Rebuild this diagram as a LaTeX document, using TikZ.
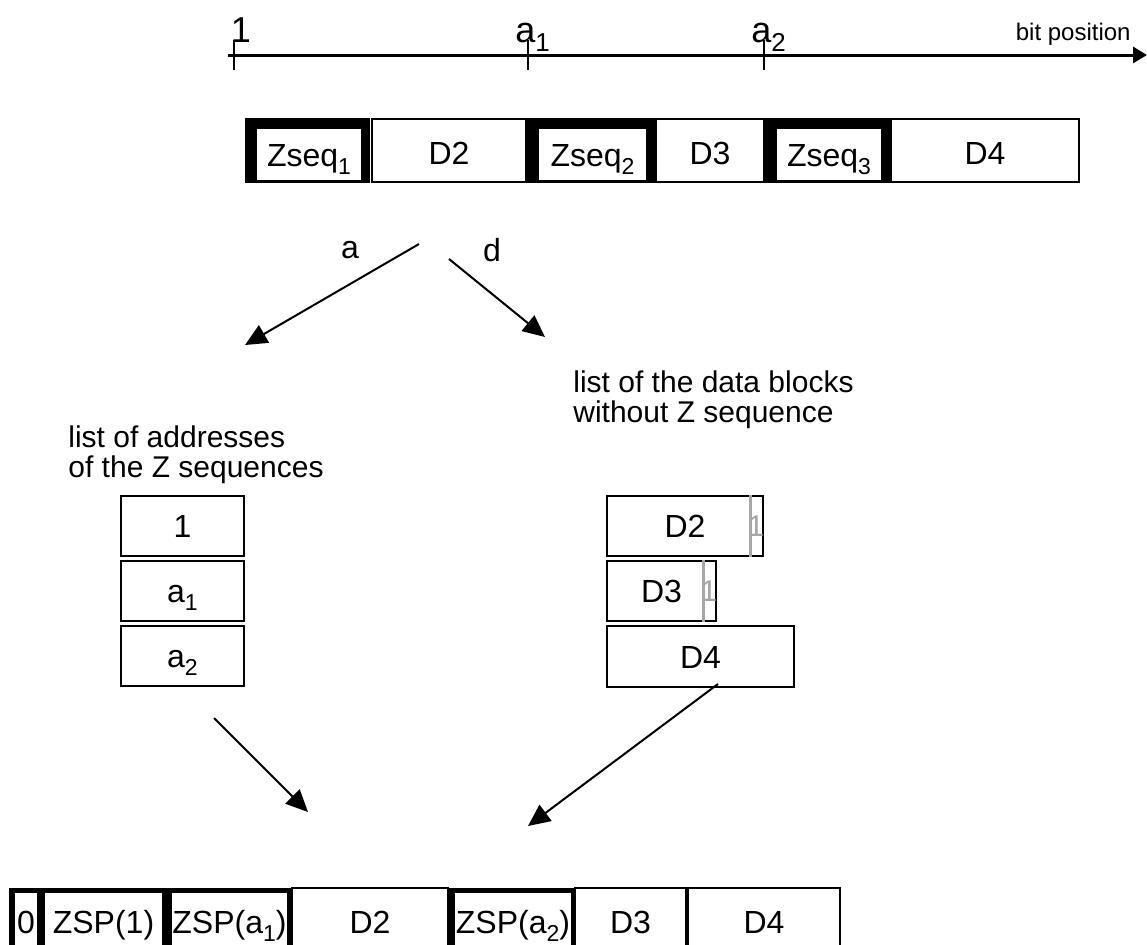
\documentclass[tikz,border=0pt]{standalone}
\usepackage{fontspec}
\usepackage{graphicx}
\setmainfont{Liberation Sans}
\usetikzlibrary{arrows.meta,positioning}
\newcommand{\idx}[1]{\raisebox{-0.25em}{\scalebox{0.72}{#1}}}
\begin{document}
\begin{tikzpicture}[x=0.5pt,y=-0.5pt,>={Triangle[length=11pt,width=10pt]}]
        \tikzstyle{big}=[font=\fontsize{16}{19}\selectfont]
        \tikzstyle{mid}=[font=\fontsize{15}{15}\selectfont]
        \tikzstyle{dcell}=[draw, line width=1pt, fill=white, big, inner sep=0pt, text height=11.5pt, text depth=0pt]
        \tikzstyle{zcell}=[fill=white, big, inner sep=0pt, text height=11.5pt, text depth=0pt]
        \tikzstyle{onebit}=[text=gray!70, font=\fontsize{15}{15}\selectfont, inner sep=0pt]
        \tikzstyle{tick}=[font=\fontsize{18}{20}\selectfont, inner sep=0pt]
        \tikzstyle{link}=[->, line width=1pt]
        \useasboundingbox (0,0) rectangle (1147,944);
        \clip (0,0) rectangle (1147,944);
        % bit position axis
        \coordinate (ax0) at (228,55);
        \coordinate (ax1) at (1147,55);
        \draw[line width=1.5pt, -{Triangle[length=7pt,width=8pt]}] (ax0) -- (ax1);
        \foreach \x in {234,528,764}
            \draw[line width=1pt] (\x,40) -- (\x,70);
        \node[tick, anchor=base] (p1) at (241,42) {1};
        \node[tick, anchor=base west] (pa1) at (515,42) {a\idx{1}};
        \node[tick, anchor=base west] (pa2) at (751,42) {a\idx{2}};
        \node[font=\fontsize{12}{14}\selectfont, inner sep=0pt, anchor=base east] (bp) at (1131,40) {bit position};
        % input stream
        \foreach \x/\w/\n in {245/125/1, 527/128/2, 765/125/3} {
            \fill (\x,118) rectangle ++(\w,65);
            \node[zcell, minimum width={(\w-21)*0.5pt}, minimum height=25.5pt] (zs\n) at ({\x+12+(\w-21)/2},154.5) {Zseq\idx{\n}};
        }
        \node[dcell, text height=13.5pt, minimum width=77pt, minimum height=31.5pt] (d2) at (449,150.5) {D2};
        \node[dcell, text height=13.5pt, minimum width=54pt, minimum height=31.5pt] (d3) at (710,150.5) {D3};
        \node[dcell, text height=13.5pt, minimum width=94pt, minimum height=31.5pt] (d4) at (985,150.5) {D4};
        % split
        \node[big] (lbla) at (350,250) {a};
        \node[big] (lbld) at (492,250) {d};
        \coordinate (sa) at (419,244);
        \coordinate (ea) at (245,345);
        \coordinate (sd) at (449,259);
        \coordinate (ed) at (545,337);
        \draw[link] (sa) -- (ea);
        \draw[link] (sd) -- (ed);
        \node[mid, align=left, anchor=north west, inner sep=0pt] (lz) at (68,425) {list of addresses\\of the Z sequences};
        \node[mid, align=left, anchor=north west, inner sep=0pt] (ld) at (573,370) {list of the data blocks\\without Z sequence};
        % address list
        \node[dcell, minimum width=61.5pt, minimum height=30pt] (ad1) at (182.5,526) {1};
        \node[dcell, minimum width=61.5pt, minimum height=30pt, below=1.5pt of ad1] (ad2) {a\idx{1}};
        \node[dcell, minimum width=61.5pt, minimum height=30pt, below=1.5pt of ad2] (ad3) {a\idx{2}};
        % data block list
        \node[dcell, minimum width=78pt, minimum height=30pt] (rd2) at (685,526) {D2};
        \node[dcell, minimum width=54.5pt, minimum height=30pt, below right=1.5pt and 0pt of rd2.south west] (rd3) {D3};
        \node[dcell, minimum width=93.5pt, minimum height=30.5pt, below right=1.5pt and 0pt of rd3.south west] (rd4) {D4};
        \foreach \n in {rd2,rd3} {
            \draw[gray!70, line width=1.5pt] ([xshift=-7pt]\n.north east) -- ([xshift=-7pt]\n.south east);
            \node[onebit] at ([xshift=-4pt]\n.east) {1};
        }
        % merge
        \coordinate (sl) at (214,718);
        \coordinate (el) at (308,812);
        \coordinate (sr) at (718,684);
        \coordinate (er) at (528,826);
        \draw[link] (sl) -- (el);
        \draw[link] (sr) -- (er);
        % output stream
        \fill (9,888) rectangle (292,956);
        \fill (448,888) rectangle (575,956);
        \node[zcell, minimum width=11pt, minimum height=29pt] (o0) at (26,922) {0};
        \node[zcell, minimum width=58.5pt, minimum height=29pt] (zsp1) at (103.5,922) {ZSP(1)};
        \node[zcell, minimum width=57.5pt, minimum height=29pt] (zsp2) at (229.5,922) {ZSP(a\idx{1})};
        \node[dcell, minimum width=78pt, minimum height=34pt] (od2) at (370,922) {D2};
        \node[zcell, minimum width=58pt, minimum height=29pt] (zsp3) at (513,922) {ZSP(a\idx{2})};
        \node[dcell, minimum width=55.5pt, minimum height=34pt] (od3) at (630.5,922) {D3};
        \node[dcell, minimum width=76pt, minimum height=34pt] (od4) at (764,922) {D4};
\end{tikzpicture}
\end{document}
